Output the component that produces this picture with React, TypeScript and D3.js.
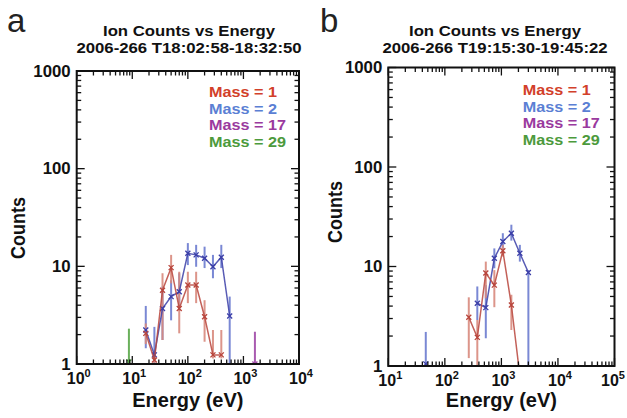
import React from "react";
import * as d3 from "d3";

const FONT = "'Liberation Sans', Arial, Helvetica, sans-serif";

// ---------- Panel a data ----------
const energyA = [17.5, 25, 35, 50, 70, 100, 141, 200, 283, 400, 566];
const mass1A = [2.06, 1.1, 5.7, 9.7, 3.7, 6.45, 6.45, 3.05, 1.24, 1.24];
const mass1ALo = [1.6, 0.5, 1.76, 6.7, 2.06, 4.2, 4.2, 1.69, 1.14, 1.14];
const mass1AHi = [2.6, 1.3, 8.5, 13.1, 8.8, 8.8, 8.8, 4.5, 2.23, 2.23];
const mass2A = [2.23, 1.24, 3.7, 4.9, 5.5, 13.6, 13.1, 12.1, 9.9, 12.4, 3.1];
const mass2ALo = [1.45, 0.5, 1.76, 2.8, 3.87, 10.3, 9.9, 9.6, 7.55, 9.6, 0.5];
const mass2AHi = [3.93, 2.4, 6.2, 7.2, 8.5, 17.3, 16.6, 15.9, 13.1, 16.6, 4.9];
const energy17A = [1610];
const mass17A = [1.0];
const mass17ALo = [0.5];
const mass17AHi = [2.14];
const energy29A = [8.7];
const mass29A = [1.05];
const mass29ALo = [0.5];
const mass29AHi = [2.3];

// ---------- Panel b data ----------
const energy1B = [265, 375, 530, 750, 1060, 1500, 2120];
const mass1B = [3.09, 1.94, 8.6, 6.5, 14.4, 4.1, 0.8];
const mass1BLo = [1.2, 0.5, 4.8, 3.9, 12.6, 2.3, 0.5];
const mass1BHi = [4.9, 2.9, 11.2, 9.2, 16.5, 5.2, 1.0];
const energy2B = [46, 265, 375, 530, 750, 1060, 1500, 2120, 3000];
const mass2B = [1.05, 0, 4.27, 3.86, 12.1, 17.8, 21.6, 13.6, 8.7];
const mass2BLo = [0.5, 0, 2.9, 1.9, 9.6, 13.6, 18.2, 11.2, 0.5];
const mass2BHi = [2.2, 0, 6.3, 6.5, 15.2, 21.6, 26.3, 16.5, 9.2];

const legendLabels = ["Mass = 1", "Mass = 2", "Mass = 17", "Mass = 29"];
const legendColors = ["#d2402a", "#5b7fd4", "#9a3a9e", "#4c9a3c"];
const yTickValues = [1, 10, 100, 1000];

const RED_LINE = "#b8453c";
const RED_BAR = "#d98a7e";
const BLUE_LINE = "#3c3fa8";
const BLUE_BAR = "#6c7cd0";
const PURPLE = "#a04aa8";
const GREEN = "#5aa84a";

type Series = {
  energy: number[];
  value: number[];
  lo: number[];
  hi: number[];
  line: string;
  bar: string;
};

function Txt(props: any) {
  const { x, y, sx = 1, anchor = "start", size, weight = "bold", fill = "#111", rotate = 0, children } = props;
  return (
    <text
      transform={`translate(${x},${y}) scale(${sx},1)${rotate ? ` rotate(${rotate})` : ""}`}
      textAnchor={anchor}
      fontSize={size}
      fontWeight={weight}
      fill={fill}
      fontFamily={FONT}
    >
      {children}
    </text>
  );
}

function Panel(props: any) {
  const { id, left, right, top, bottom, xDomain, series, letter, letterX, titleLines, titleX, legendX, legendY, countsX, countsY } = props;
  const x = d3.scaleLog().domain(xDomain).range([left, right]);
  const y = d3.scaleLog().domain([1, 1000]).range([bottom, top]);

  const e0 = Math.round(Math.log10(xDomain[0]));
  const e1 = Math.round(Math.log10(xDomain[1]));
  const xMajor: number[] = [];
  const xMinor: number[] = [];
  for (let e = e0; e <= e1; e++) {
    xMajor.push(e);
    if (e < e1) for (let k = 2; k <= 9; k++) xMinor.push(k * Math.pow(10, e));
  }
  const yMinor: number[] = [];
  for (let e = 0; e < 3; e++) for (let k = 2; k <= 9; k++) yMinor.push(k * Math.pow(10, e));

  const MAJ = 8;
  const MIN = 4.5;
  const line = d3
    .line<[number, number]>()
    .defined((d) => d[1] > 0)
    .x((d) => x(d[0]))
    .y((d) => y(d[1]));

  const clipId = `clip-${id}`;
  return (
    <g>
      <defs>
        <clipPath id={clipId}>
          <rect x={left} y={top} width={right - left} height={bottom - top} />
        </clipPath>
      </defs>
      {/* letter */}
      <Txt x={letterX} y={32} size={33} weight="normal" fill="#222">{letter}</Txt>
      {/* titles */}
      <Txt x={titleX} y={36} size={15.5} sx={1.08} anchor="middle">{titleLines[0]}</Txt>
      <Txt x={titleX} y={53} size={15.5} sx={1.08} anchor="middle">{titleLines[1]}</Txt>

      {/* data */}
      <g clipPath={`url(#${clipId})`}>
        {series.map((s: Series, si: number) => (
          <g key={`bars${si}`}>
            {s.energy.map((e, i) =>
              s.value[i] > 0 ? (
                <line
                  key={i}
                  x1={x(e)}
                  x2={x(e)}
                  y1={y(s.hi[i])}
                  y2={y(Math.max(s.lo[i], 0.3))}
                  stroke={s.bar}
                  strokeWidth={2}
                  opacity={0.9}
                />
              ) : null
            )}
          </g>
        ))}
        {series.map((s: Series, si: number) => (
          <g key={`line${si}`}>
            <path
              d={line(s.energy.map((e, i) => [e, s.value[i]] as [number, number])) || ""}
              fill="none"
              stroke={s.line}
              strokeWidth={1.5}
              opacity={0.85}
            />
            {s.energy.map((e, i) => {
              if (!(s.value[i] > 0)) return null;
              const cx = x(e);
              const cy = y(s.value[i]);
              const r = 2.5;
              return (
                <path
                  key={i}
                  d={`M${cx - r},${cy - r}L${cx + r},${cy + r}M${cx - r},${cy + r}L${cx + r},${cy - r}`}
                  stroke={s.line}
                  strokeWidth={1.3}
                />
              );
            })}
          </g>
        ))}
      </g>

      {/* ticks */}
      <g stroke="#111" strokeWidth={1.3}>
        {xMajor.map((e) => {
          const px = x(Math.pow(10, e));
          return (
            <g key={`xM${e}`}>
              <line x1={px} x2={px} y1={bottom} y2={bottom - MAJ} />
              <line x1={px} x2={px} y1={top} y2={top + MAJ} />
            </g>
          );
        })}
        {xMinor.map((v, i) => {
          const px = x(v);
          return (
            <g key={`xm${i}`}>
              <line x1={px} x2={px} y1={bottom} y2={bottom - MIN} />
              <line x1={px} x2={px} y1={top} y2={top + MIN} />
            </g>
          );
        })}
        {yTickValues.map((v) => {
          const py = y(v);
          return (
            <g key={`yM${v}`}>
              <line x1={left} x2={left + MAJ} y1={py} y2={py} />
              <line x1={right} x2={right - MAJ} y1={py} y2={py} />
            </g>
          );
        })}
        {yMinor.map((v, i) => {
          const py = y(v);
          return (
            <g key={`ym${i}`}>
              <line x1={left} x2={left + MIN} y1={py} y2={py} />
              <line x1={right} x2={right - MIN} y1={py} y2={py} />
            </g>
          );
        })}
      </g>
      {/* frame */}
      <rect x={left} y={top} width={right - left} height={bottom - top} fill="none" stroke="#111" strokeWidth={2} />

      {/* tick labels */}
      {yTickValues.map((v) => (
        <Txt key={`yl${v}`} x={left - 6} y={y(v) + 5.5} size={16} sx={1.05} anchor="end">
          {String(v)}
        </Txt>
      ))}
      {xMajor.map((e) => {
        const px = Math.min(x(Math.pow(10, e)) + 2, 613);
        return (
          <text
            key={`xl${e}`}
            transform={`translate(${px},${bottom + 20})`}
            textAnchor="middle"
            fontSize={16}
            fontWeight="bold"
            fontFamily={FONT}
            fill="#111"
          >
            <tspan>10</tspan>
            <tspan dy={-7} fontSize={11}>{String(e)}</tspan>
          </text>
        );
      })}

      {/* axis titles */}
      <Txt x={(left + right) / 2} y={407} size={20} anchor="middle">Energy (eV)</Txt>
      <Txt x={countsX} y={countsY} size={18} sx={1.1} rotate={-90} anchor="middle">Counts</Txt>

      {/* legend */}
      {legendLabels.map((l, i) => (
        <Txt key={l} x={legendX} y={legendY + i * 16.5} size={15} sx={1.08} fill={legendColors[i]}>
          {l}
        </Txt>
      ))}
    </g>
  );
}

export default function App() {
  const seriesA: Series[] = [
    { energy: energy29A, value: mass29A, lo: mass29ALo, hi: mass29AHi, line: GREEN, bar: GREEN },
    { energy: energy17A, value: mass17A, lo: mass17ALo, hi: mass17AHi, line: PURPLE, bar: PURPLE },
    { energy: energyA, value: mass2A, lo: mass2ALo, hi: mass2AHi, line: BLUE_LINE, bar: BLUE_BAR },
    { energy: energyA.slice(0, mass1A.length), value: mass1A, lo: mass1ALo, hi: mass1AHi, line: RED_LINE, bar: RED_BAR },
  ];
  const seriesB: Series[] = [
    { energy: energy2B, value: mass2B, lo: mass2BLo, hi: mass2BHi, line: BLUE_LINE, bar: BLUE_BAR },
    { energy: energy1B, value: mass1B, lo: mass1BLo, hi: mass1BHi, line: RED_LINE, bar: RED_BAR },
  ];
  return (
    <svg
      width={627}
      height={418}
      viewBox="0 0 627 418"
      style={{ position: "fixed", left: 0, top: 0, background: "#fff" }}
    >
      <rect width={627} height={418} fill="#fff" />
      <Panel
        id="a"
        left={76.7}
        right={299}
        top={71}
        bottom={364}
        xDomain={[1, 1e4]}
        series={seriesA}
        letter="a"
        letterX={7}
        titleLines={["Ion Counts vs Energy", "2006-266 T18:02:58-18:32:50"]}
        titleX={189}
        legendX={209}
        legendY={97}
        countsX={25}
        countsY={228}
      />
      <Panel
        id="b"
        left={388.3}
        right={614.5}
        top={67.5}
        bottom={366}
        xDomain={[10, 1e5]}
        series={seriesB}
        letter="b"
        letterX={320}
        titleLines={["Ion Counts vs Energy", "2006-266 T19:15:30-19:45:22"]}
        titleX={495}
        legendX={522.7}
        legendY={95}
        countsX={342}
        countsY={212}
      />
    </svg>
  );
}
